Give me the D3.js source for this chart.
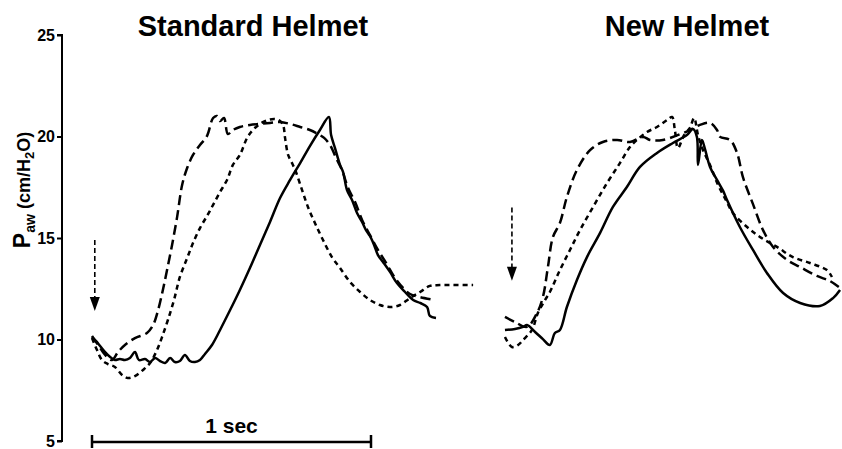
<!DOCTYPE html>
<html>
<head>
<meta charset="utf-8">
<script src="https://cdn.jsdelivr.net/npm/d3@7"></script>
<style>
  html, body { margin: 0; padding: 0; background: #fff; }
  svg { display: block; font-family: "Liberation Sans", Arial, sans-serif; }
</style>
</head>
<body>
<svg id="chart" width="842" height="449"></svg>
<script>
// ---------- DATA (time in seconds, pressure in cmH2O) ----------
const panelTitles = ["Standard Helmet", "New Helmet"];
const yTicks = [5, 10, 15, 20, 25];
const scaleBarLabel = "1 sec";
const scaleBarSeconds = 1;

// Standard helmet
const stdSolid = [
  [0,10.12],[0.014,9.93],[0.029,9.68],[0.047,9.38],[0.065,9.14],[0.082,8.99],[0.100,9.04],[0.118,8.99],
  [0.136,9.09],[0.154,9.38],[0.168,8.99],[0.190,9.04],[0.208,8.89],[0.226,9.09],[0.244,8.94],[0.262,8.84],
  [0.280,9.09],[0.297,8.89],[0.315,8.94],[0.333,9.24],[0.351,8.94],[0.369,8.89],[0.387,8.99],[0.405,9.29],
  [0.430,9.73],[0.459,10.47],[0.495,11.45],[0.530,12.44],[0.566,13.52],[0.602,14.66],[0.638,15.79],
  [0.674,16.97],[0.710,17.86],[0.746,18.69],[0.781,19.53],[0.817,20.32],[0.849,20.96],[0.857,20.07],
  [0.871,19.43],[0.889,18.60],[0.900,18.25],[0.914,17.36],[0.932,16.87],[0.950,16.23],[0.968,15.79],
  [0.982,15.39],[0.996,15.10],[1.011,14.66],[1.025,14.16],[1.043,13.82],[1.068,13.33],[1.093,12.78],
  [1.122,12.34],[1.151,11.95],[1.176,11.80],[1.201,11.60],[1.211,11.16],[1.233,11.06]
];
const stdDashed = [
  [0,10.17],[0.022,9.73],[0.047,9.24],[0.072,8.99],[0.093,9.38],[0.118,9.73],[0.154,10.07],[0.197,10.32],
  [0.219,10.71],[0.237,11.45],[0.254,12.44],[0.269,13.42],[0.287,14.66],[0.305,16.03],[0.323,17.61],
  [0.341,18.45],[0.362,19.09],[0.387,19.58],[0.412,20.02],[0.434,20.91],[0.448,21.01],[0.459,20.76],
  [0.473,20.91],[0.487,20.12],[0.505,20.32],[0.530,20.47],[0.566,20.57],[0.602,20.62],[0.638,20.67],
  [0.674,20.71],[0.710,20.62],[0.746,20.47],[0.781,20.32],[0.810,20.12],[0.832,19.93],[0.853,19.58],
  [0.875,18.94],[0.896,18.35],[0.918,17.46],[0.943,16.77],[0.968,15.89],[0.996,15.15],[1.025,14.41],
  [1.054,13.77],[1.086,13.03],[1.115,12.54],[1.140,12.24],[1.176,12.09],[1.229,11.95]
];
const stdDotted = [
  [0,10.07],[0.018,9.48],[0.036,8.99],[0.057,8.79],[0.082,8.65],[0.108,8.25],[0.129,8.10],[0.154,8.20],
  [0.183,8.50],[0.208,8.84],[0.233,9.48],[0.251,10.12],[0.272,10.96],[0.294,11.95],[0.315,13.08],
  [0.341,14.01],[0.362,14.75],[0.387,15.49],[0.412,16.08],[0.434,16.63],[0.459,17.27],[0.484,17.86],
  [0.505,18.60],[0.530,19.09],[0.556,19.93],[0.577,20.32],[0.602,20.62],[0.631,20.81],[0.656,20.86],
  [0.674,20.76],[0.685,20.57],[0.692,19.93],[0.703,19.09],[0.717,18.69],[0.731,18.25],[0.753,17.36],
  [0.774,16.53],[0.799,15.74],[0.828,14.90],[0.860,14.06],[0.889,13.52],[0.925,12.83],[0.961,12.34],
  [0.996,11.95],[1.032,11.70],[1.068,11.60],[1.104,11.70],[1.140,12.04],[1.176,12.34],[1.211,12.64],
  [1.247,12.68],[1.366,12.68]
];

// New helmet
const newSolid = [
  [0.007,10.47],[0.043,10.52],[0.072,10.62],[0.086,10.71],[0.115,10.37],[0.143,10.02],[0.168,9.73],
  [0.186,10.32],[0.204,10.47],[0.229,11.60],[0.265,12.93],[0.301,14.06],[0.348,15.25],[0.394,16.53],
  [0.444,17.51],[0.491,18.50],[0.552,19.19],[0.609,19.68],[0.659,20.07],[0.681,20.37],[0.695,19.98],
  [0.699,18.60],[0.713,19.83],[0.724,19.38],[0.742,18.50],[0.767,17.86],[0.789,17.32],[0.803,16.87],
  [0.849,15.54],[0.896,14.41],[0.946,13.28],[1.004,12.29],[1.065,11.80],[1.136,11.65],[1.183,12.04],
  [1.208,12.44]
];
const newDashed = [
  [0.007,11.11],[0.043,10.86],[0.086,10.62],[0.122,11.31],[0.143,12.09],[0.161,13.57],[0.179,15.05],
  [0.204,15.74],[0.229,17.02],[0.265,18.35],[0.312,19.33],[0.358,19.73],[0.409,19.83],[0.455,19.73],
  [0.502,19.98],[0.527,19.83],[0.573,19.83],[0.645,20.17],[0.670,20.32],[0.706,20.57],[0.742,20.67],
  [0.767,20.32],[0.778,19.98],[0.814,19.83],[0.839,19.19],[0.860,18.00],[0.896,16.67],[0.932,15.39],
  [0.968,14.56],[1.018,13.92],[1.065,13.57],[1.125,13.13],[1.172,12.88],[1.208,12.54]
];
const newDotted = [
  [0.007,10.12],[0.032,9.63],[0.054,9.73],[0.072,9.98],[0.104,10.47],[0.125,11.31],[0.151,11.95],
  [0.168,12.34],[0.204,13.42],[0.240,14.41],[0.276,15.39],[0.323,16.53],[0.373,17.71],[0.419,18.69],
  [0.455,19.48],[0.480,19.83],[0.516,20.22],[0.552,20.47],[0.588,20.81],[0.606,20.96],[0.616,20.32],
  [0.627,19.43],[0.649,20.07],[0.670,20.42],[0.685,20.91],[0.699,20.07],[0.717,19.33],[0.742,18.60],
  [0.771,17.61],[0.799,16.87],[0.824,16.23],[0.875,15.54],[0.921,15.05],[0.982,14.56],[1.039,14.06],
  [1.100,13.77],[1.161,13.42],[1.179,13.08]
];

// Breath-onset arrows: [time, fromPressure, toPressure]
const stdArrow = [0.010, 14.9, 11.4];
const newArrow = [0.032, 16.5, 12.9];

// ---------- DRAWING ----------
const svg = d3.select("#chart");
const y = d3.scaleLinear().domain([5, 25]).range([441, 35]);
const xStd = d3.scaleLinear().domain([0, 1]).range([92, 371]);
const xNew = d3.scaleLinear().domain([0, 1]).range([503, 782]);

// Y axis
const yAxis = d3.axisLeft(y).tickValues(yTicks).tickSize(5).tickPadding(2).tickFormat(d3.format("d"));
const gAxis = svg.append("g").attr("transform", "translate(62,0)").call(yAxis);
gAxis.select(".domain").attr("stroke", "#000").attr("stroke-width", 2)
  .attr("d", `M-5,${y(25)}H0V${y(5)}H-5`);
gAxis.selectAll(".tick line").attr("stroke", "#000").attr("stroke-width", 2);
gAxis.selectAll(".tick text").attr("fill", "#000").style("font-size", "16px").style("font-weight", "bold")
  .style("font-family", "'Liberation Sans', Arial, sans-serif");

// Y label
const yl = svg.append("text")
  .attr("transform", "translate(30,190) rotate(-90)")
  .attr("text-anchor", "middle")
  .style("font-weight", "bold").style("font-size", "18px").attr("fill", "#000");
yl.append("tspan").text("P").style("font-size", "23px");
yl.append("tspan").text("aw").style("font-size", "14px").attr("dy", 5);
yl.append("tspan").text(" (cm/H").attr("dy", -5);
yl.append("tspan").text("2").style("font-size", "13px").attr("dy", 4);
yl.append("tspan").text("O)").attr("dy", -4);

// Titles
svg.append("text").attr("x", 253).attr("y", 36).attr("text-anchor", "middle")
  .style("font-size", "29px").style("font-weight", "bold").text(panelTitles[0]);
svg.append("text").attr("x", 687).attr("y", 36).attr("text-anchor", "middle")
  .style("font-size", "29px").style("font-weight", "bold").text(panelTitles[1]);

const styles = {
  solid: { dash: null },
  dashed: { dash: "10,5" },
  dotted: { dash: "5,4" }
};

function drawSeries(data, x, style) {
  const line = d3.line().x(d => x(d[0])).y(d => y(d[1])).curve(d3.curveCatmullRom.alpha(0.5));
  svg.append("path").datum(data)
    .attr("d", line)
    .attr("fill", "none").attr("stroke", "#000").attr("stroke-width", 2.5)
    .attr("stroke-linejoin", "round")
    .attr("stroke-dasharray", styles[style].dash);
}
drawSeries(stdDotted, xStd, "dotted");
drawSeries(stdDashed, xStd, "dashed");
drawSeries(stdSolid, xStd, "solid");
drawSeries(newDotted, xNew, "dotted");
drawSeries(newDashed, xNew, "dashed");
drawSeries(newSolid, xNew, "solid");

function drawArrow(a, x) {
  const ax = x(a[0]), y0 = y(a[1]), y1 = y(a[2]);
  svg.append("line").attr("x1", ax).attr("x2", ax).attr("y1", y0).attr("y2", y1 - 12)
    .attr("stroke", "#000").attr("stroke-width", 1.6).attr("stroke-dasharray", "5,3");
  svg.append("path").attr("d", `M${ax - 5},${y1 - 14}L${ax + 5},${y1 - 14}L${ax},${y1}Z`).attr("fill", "#000");
}
drawArrow(stdArrow, xStd);
drawArrow(newArrow, xNew);

// Scale bar
const sbY = 442;
const x0 = xStd(0), x1 = xStd(scaleBarSeconds);
const sb = svg.append("g").attr("stroke", "#000").attr("stroke-width", 2.5);
sb.append("line").attr("x1", x0).attr("x2", x1).attr("y1", sbY).attr("y2", sbY);
sb.append("line").attr("x1", x0).attr("x2", x0).attr("y1", sbY - 7).attr("y2", sbY + 6);
sb.append("line").attr("x1", x1).attr("x2", x1).attr("y1", sbY - 7).attr("y2", sbY + 6);
svg.append("text").attr("x", (x0 + x1) / 2).attr("y", 433).attr("text-anchor", "middle")
  .style("font-size", "21px").style("font-weight", "bold").text(scaleBarLabel);
</script>
</body>
</html>
